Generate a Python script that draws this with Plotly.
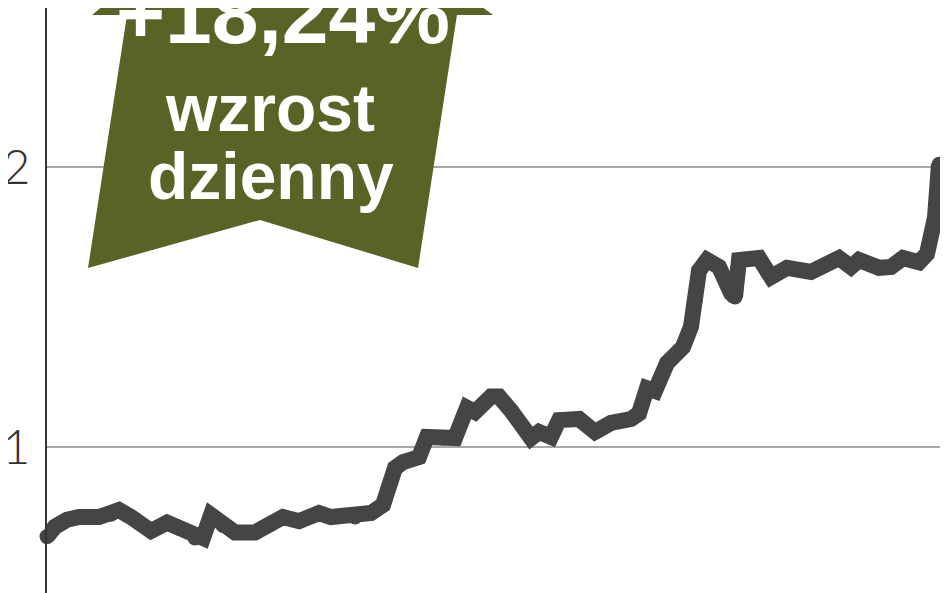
import plotly.graph_objects as go

# kurs akcji - notowania dzienne (indeks sesji, kurs w zł)
days = [0, 2, 5, 8, 13, 16, 18, 21, 23, 26, 30, 33, 37, 39, 41, 44, 47, 52, 56, 59,
        63, 68, 71, 77, 81, 84, 86, 87, 89, 93, 95, 99, 102, 105, 107, 111, 113, 116,
        121, 123, 126, 128, 133, 137, 141, 146, 148, 150, 152, 155, 159, 161, 162, 163,
        165, 168, 171, 172, 173, 178, 181, 185, 191, 196, 198, 201, 203, 208, 211, 214,
        218, 220, 222, 223]
price = [0.68, 0.715, 0.74, 0.75, 0.75, 0.76, 0.775, 0.75, 0.73, 0.70, 0.73, 0.71, 0.675,
         0.675, 0.757, 0.72, 0.695, 0.695, 0.725, 0.75, 0.735, 0.764, 0.75, 0.75, 0.764,
         0.793, 0.88, 0.925, 0.946, 0.964, 1.036, 1.032, 1.032, 1.14, 1.125, 1.18, 1.18,
         1.13, 1.032, 1.054, 1.036, 1.096, 1.10, 1.054, 1.086, 1.10, 1.12, 1.21, 1.20,
         1.30, 1.357, 1.43, 1.52, 1.63, 1.668, 1.643, 1.55, 1.536, 1.668, 1.675, 1.607,
         1.64, 1.625, 1.66, 1.675, 1.643, 1.668, 1.64, 1.643, 1.675, 1.66, 1.69, 1.82, 2.01]
y_ticks = [1, 2]
y_tick_labels = ["1", "2"]
badge_lines = ["+18,24%", "wzrost", "dzienny"]

# strona ma domyślny margines 8px, więc rysunek jest o tyle mniejszy
OFF = 8
W, H = 948 - OFF, 593 - OFF
L = 47 - OFF
OLIVE = "#5a6326"
LINE = "#454545"


def px(x):  # piksel obrazka -> paper x
    return (x - OFF - L) / (W - L)


def py(y):  # piksel obrazka -> paper y
    return (H - (y - OFF)) / H


fig = go.Figure()
fig.add_trace(go.Scatter(
    x=days, y=price, mode="lines+markers",
    line=dict(color=LINE, width=16),
    marker=dict(color=LINE, size=15, line_width=0),
    hoverinfo="skip", showlegend=False, cliponaxis=False,
))

# zielona strzałka
pts = [(282, -143), (92, 15), (127, 15), (88, 268), (260, 220),
       (418, 268), (457, 15), (493, 15)]
path = "M " + " L ".join(f"{px(a):.4f},{py(b):.4f}" for a, b in pts) + " Z"
fig.add_shape(type="path", path=path, xref="paper", yref="paper",
              fillcolor=OLIVE, line_width=0, layer="above")

badge_font = "Liberation Sans, Arial, sans-serif"
for txt, cx, cy, size in [(badge_lines[0], 283, 14, 84),
                          (badge_lines[1], 270, 108, 66),
                          (badge_lines[2], 271, 176, 66)]:
    fig.add_annotation(text=txt, x=px(cx), y=py(cy), xref="paper", yref="paper",
                       xanchor="center", yanchor="middle", showarrow=False,
                       font=dict(family=badge_font, size=size, color="white", weight="bold"))

fig.update_xaxes(range=[0, 901 / 4], visible=False, showgrid=False, zeroline=False)
fig.update_yaxes(
    range=[1 - (593 - 447) / 280, 2 + (167 - OFF) / 280],
    tickvals=y_ticks, ticktext=y_tick_labels,
    showgrid=True, gridcolor="#a8a8a8", gridwidth=2, zeroline=False,
    showline=True, linecolor="#333333", linewidth=2,
    ticks="", ticklabelstandoff=5, automargin=False,
    tickfont=dict(family="Lato, Open Sans, sans-serif", size=48, color="#333333", weight=300),
)
fig.update_layout(
    width=W, height=H,
    margin=dict(l=L, r=0, t=0, b=0, autoexpand=False),
    plot_bgcolor="white", paper_bgcolor="white",
)

fig.write_html("out.html")
